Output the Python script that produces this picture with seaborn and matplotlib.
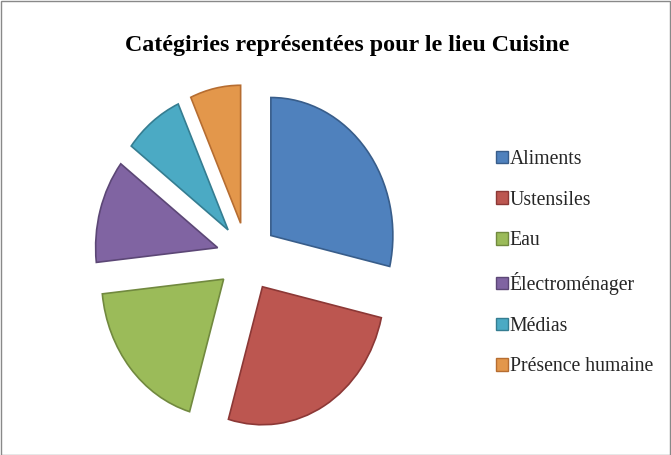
import matplotlib
matplotlib.use("Agg")
import matplotlib.pyplot as plt
import seaborn as sns
from matplotlib.patches import Rectangle, Patch

categories = ["Aliments", "Ustensiles", "Eau", "Électroménager", "Médias", "Présence humaine"]
values = [28.6, 25.9, 18.8, 12.1, 7.9, 6.7]
title = "Catégiries représentées pour le lieu Cuisine"

fill_colors = ["#4F81BD", "#BC5650", "#9BBB59", "#8064A2", "#4BAAC4", "#E3974B"]
edge_colors = ["#385D8A", "#8C3836", "#71893F", "#5C4776", "#357D91", "#B66D31"]

sns.set_theme(style="white")
plt.rcParams["font.family"] = ["Liberation Serif", "DejaVu Serif"]

W, H = 671, 455
fig = plt.figure(figsize=(W / 100, H / 100), dpi=100)

# pie geometry in pixels
cx, cy = 247, 257
rx, ry = 122, 138
ax = fig.add_axes([(cx - 1.5 * rx) / W, (H - cy - 1.5 * ry) / H, 3 * rx / W, 3 * ry / H])

wedges, _ = ax.pie(values, startangle=90, counterclock=False,
                   explode=[0.25] * len(values), colors=fill_colors,
                   wedgeprops=dict(linewidth=1.2))
for w, ec in zip(wedges, edge_colors):
    w.set_edgecolor(ec)
    w.set_clip_on(False)
ax.set_aspect("auto")
ax.set_xlim(-1.5, 1.5)
ax.set_ylim(-1.5, 1.5)
ax.axis("off")

fig.text(347 / W, 1 - 46 / H, title, ha="center", va="center",
         fontsize=17.3, fontweight="bold", color="black")

handles = [Patch(facecolor=f, edgecolor=e, linewidth=1) for f, e in zip(fill_colors, edge_colors)]
leg = fig.legend(handles, categories, loc="upper left",
                 bbox_to_anchor=(496 / W, 1 - 150 / H), frameon=False,
                 fontsize=14.2, handlelength=0.6, handleheight=0.6,
                 handletextpad=0.1, labelspacing=1.1, borderaxespad=0,
                 borderpad=0)

fig.add_artist(Rectangle((0.5 / W, 0.5 / H), 1 - 1.5 / W, 1 - 1.5 / H,
                         transform=fig.transFigure, fill=False,
                         edgecolor="#898989", linewidth=1))

fig.savefig("out.png", dpi=100, facecolor="white")
